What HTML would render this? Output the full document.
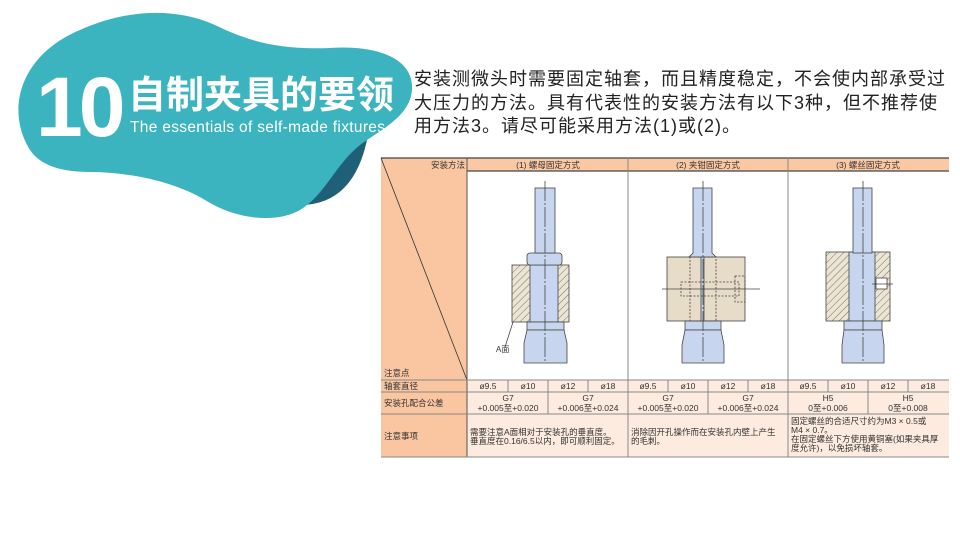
<!DOCTYPE html>
<html><head><meta charset="utf-8"><style>
body{margin:0;width:960px;height:540px;background:#fff;overflow:hidden;position:relative;font-family:"Liberation Sans","Noto Sans CJK SC",sans-serif}
.p{position:absolute;left:414px;top:68px;font-size:18px;letter-spacing:1px;line-height:23.5px;color:#222;white-space:nowrap}
</style></head><body>
<svg width="960" height="540" style="position:absolute;left:0;top:0" font-family="Liberation Sans, Noto Sans CJK SC, sans-serif">
<defs>
<pattern id="h" patternUnits="userSpaceOnUse" width="5" height="5" patternTransform="rotate(45)">
<rect width="5" height="5" fill="#ece5d3"/><line x1="0" y1="0" x2="0" y2="5" stroke="#555" stroke-width="0.8"/></pattern>
</defs>
<path d="M300,205 Q355,205 368,135 L330,150 Z" fill="#1f6078"/>
<path d="M30,150 C5,110 20,55 80,30 C120,12 170,5 215,25 C250,42 280,50 330,48 C370,45 410,55 412,85 C414,115 380,130 360,145 C335,165 325,195 300,210 C280,222 240,222 205,200 C175,182 130,172 90,172 C60,172 40,165 30,150 Z" fill="#3cb4bf"/>
<text x="36" y="136" font-size="84" font-weight="bold" fill="#fff" letter-spacing="-4">10</text>
<text x="128" y="108" font-size="38" font-weight="bold" fill="#fff" font-family="Noto Sans CJK SC, sans-serif">自制夹具的要领</text>
<text x="130" y="132" font-size="15.5" fill="#fff" textLength="255">The essentials of self-made fixtures</text>

<!-- table -->
<g font-size="8.5" fill="#333">
<rect x="381" y="158" width="86" height="299" fill="#f9c6a1"/>
<rect x="467" y="158" width="482" height="13" fill="#fbc8a4"/>
<rect x="467" y="171" width="482" height="209" fill="#fff"/>
<rect x="467" y="380" width="482" height="77" fill="#fdebdf"/>
<line x1="381" y1="158" x2="949" y2="158" stroke="#444" stroke-width="1.2"/>
<line x1="467" y1="171" x2="949" y2="171" stroke="#444" stroke-width="1.2"/>
<line x1="381" y1="158" x2="467" y2="380" stroke="#333" stroke-width="0.8"/>
<line x1="467" y1="158" x2="467" y2="457" stroke="#555"/>
<line x1="628" y1="158" x2="628" y2="457" stroke="#888"/>
<line x1="788" y1="158" x2="788" y2="457" stroke="#888"/>
<line x1="381" y1="380" x2="949" y2="380" stroke="#888"/>
<line x1="381" y1="392" x2="949" y2="392" stroke="#888"/>
<line x1="381" y1="414" x2="949" y2="414" stroke="#888"/>
<line x1="381" y1="457" x2="949" y2="457" stroke="#888"/>
<g stroke="#888">
<line x1="508" y1="380" x2="508" y2="392"/><line x1="548" y1="380" x2="548" y2="414"/><line x1="588" y1="380" x2="588" y2="392"/>
<line x1="668" y1="380" x2="668" y2="392"/><line x1="708" y1="380" x2="708" y2="414"/><line x1="748" y1="380" x2="748" y2="392"/>
<line x1="828" y1="380" x2="828" y2="392"/><line x1="868" y1="380" x2="868" y2="414"/><line x1="908" y1="380" x2="908" y2="392"/>
</g>
<text x="465" y="168" text-anchor="end">安装方法</text>
<text x="548" y="168" text-anchor="middle">(1) 螺母固定方式</text>
<text x="708" y="168" text-anchor="middle">(2) 夹钳固定方式</text>
<text x="868" y="168" text-anchor="middle">(3) 螺丝固定方式</text>
<text x="384" y="376">注意点</text>
<text x="384" y="389">轴套直径</text>
<text x="384" y="406">安装孔配合公差</text>
<text x="384" y="439">注意事项</text>
<g text-anchor="middle">
<text x="488" y="389">ø9.5</text><text x="528" y="389">ø10</text><text x="568" y="389">ø12</text><text x="608" y="389">ø18</text>
<text x="648" y="389">ø9.5</text><text x="688" y="389">ø10</text><text x="728" y="389">ø12</text><text x="768" y="389">ø18</text>
<text x="808" y="389">ø9.5</text><text x="848" y="389">ø10</text><text x="888" y="389">ø12</text><text x="928" y="389">ø18</text>
<text x="508" y="401">G7</text><text x="508" y="411">+0.005至+0.020</text>
<text x="588" y="401">G7</text><text x="588" y="411">+0.006至+0.024</text>
<text x="668" y="401">G7</text><text x="668" y="411">+0.005至+0.020</text>
<text x="748" y="401">G7</text><text x="748" y="411">+0.006至+0.024</text>
<text x="828" y="401">H5</text><text x="828" y="411">0至+0.006</text>
<text x="908" y="401">H5</text><text x="908" y="411">0至+0.008</text>
</g>
<text x="470" y="435">需要注意A面相对于安装孔的垂直度。</text>
<text x="470" y="444">垂直度在0.16/6.5以内，即可顺利固定。</text>
<text x="631" y="435">消除因开孔操作而在安装孔内壁上产生</text>
<text x="631" y="444">的毛刺。</text>
<text x="791" y="424">固定螺丝的合适尺寸约为M3 × 0.5或</text>
<text x="791" y="433">M4 × 0.7。</text>
<text x="791" y="442">在固定螺丝下方使用黄铜塞(如果夹具厚</text>
<text x="791" y="451">度允许)，以免损坏轴套。</text>
</g>

<g stroke="#444" stroke-width="0.8" fill="#c7d6ee">
<!-- drawing 1 -->
<rect x="512" y="265" width="57" height="57" fill="url(#h)"/>
<rect x="530" y="265" width="28" height="57"/>
<rect x="527" y="253" width="35" height="12" rx="3"/>
<rect x="535" y="188" width="20" height="65"/>
<rect x="527" y="322" width="37" height="8"/>
<path d="M527,330 L564,330 L567,343 L567,363 L524,363 L524,343 Z"/>
<line x1="545" y1="181" x2="545" y2="363" stroke-dasharray="20,2,2,2"/>
<path d="M513,322 L505,347" fill="none"/>
<!-- drawing 2 -->
<rect x="667" y="257" width="78" height="64" fill="#e6dcc7"/>
<path d="M693,188 L712,188 L712,253 L716,257 L689,257 L693,253 Z"/>
<rect x="685" y="321" width="36" height="9"/>
<path d="M685,330 L721,330 L724,345 L724,363 L682,363 L682,345 Z"/>
<rect x="701" y="257" width="3" height="64" fill="#c7d6ee"/>
<g fill="none" stroke-dasharray="2,1.5">
<rect x="690" y="257" width="26" height="64"/><rect x="681" y="282" width="58" height="14"/><rect x="735" y="276" width="10" height="26"/>
</g>
<line x1="662" y1="289" x2="760" y2="289"/>
<line x1="703" y1="181" x2="703" y2="363" stroke-dasharray="20,2,2,2"/>
<!-- drawing 3 -->
<rect x="826" y="252" width="64" height="69" fill="url(#h)"/>
<rect x="849" y="252" width="26" height="69"/>
<rect x="853" y="188" width="19" height="65"/>
<rect x="876" y="278" width="11" height="11" fill="#fff"/>
<line x1="872" y1="284" x2="893" y2="284"/>
<rect x="844" y="321" width="38" height="9"/>
<path d="M844,330 L882,330 L884,345 L884,363 L842,363 L842,345 Z"/>
<line x1="863" y1="181" x2="863" y2="363" stroke-dasharray="20,2,2,2"/>
</g>
<text x="496" y="352" font-size="8" fill="#333">A面</text>
</svg>
<div class="p">安装测微头时需要固定轴套，而且精度稳定，不会使内部承受过<br>大压力的方法。具有代表性的安装方法有以下3种，但不推荐使<br>用方法3。请尽可能采用方法(1)或(2)。</div>
</body></html>
